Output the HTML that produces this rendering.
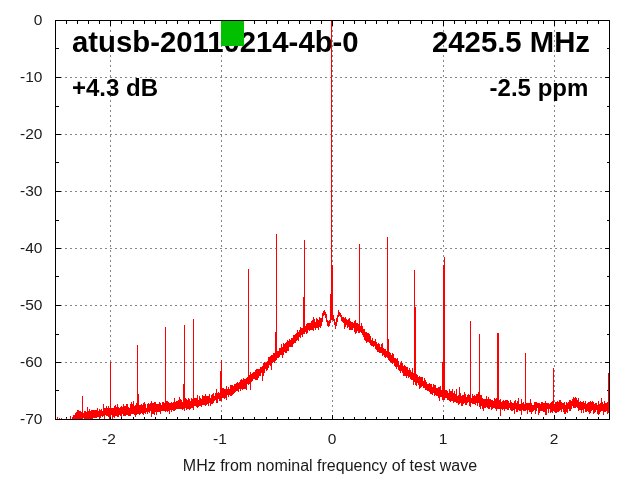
<!DOCTYPE html>
<html><head><meta charset="utf-8"><title>atusb-20110214-4b-0</title>
<style>
html,body{margin:0;padding:0;background:#fff;}
body{width:640px;height:480px;overflow:hidden;}
svg{display:block;font-family:"Liberation Sans",sans-serif;will-change:transform;}
.tk{font-size:15.5px;fill:#1a1a1a;}.xl{font-size:16px;fill:#1a1a1a;}
.big{font-size:29.3px;font-weight:bold;fill:#000;}
.med{font-size:24px;font-weight:bold;fill:#000;}
</style></head><body>
<svg width="640" height="480" viewBox="0 0 640 480">
<rect width="640" height="480" fill="#fff"/>
<defs><clipPath id="c"><rect x="55" y="20" width="555" height="400"/></clipPath></defs>
<g stroke="#888" stroke-width="1" stroke-dasharray="2 3" fill="none" shape-rendering="crispEdges"><path d="M55 77.5 H610 M55 134.5 H610 M55 191.5 H610 M55 248.5 H610 M55 305.5 H610 M55 362.5 H610 "/><path d="M110.5 419 V20 M221.5 419 V20 M332.5 419 V20 M443.5 419 V20 M554.5 419 V20 " stroke-dashoffset="3"/></g>
<g class="big"><text x="72" y="52">atusb-20110214-4b-0</text><text x="590" y="52" text-anchor="end">2425.5 MHz</text></g>
<g class="med"><text x="72" y="95.5">+4.3 dB</text><text x="588.3" y="95.5" text-anchor="end">-2.5 ppm</text></g>
<path d="M55.5 419.5 v-3 M55.5 20.5 v3 M66.5 419.5 v-3 M66.5 20.5 v3 M77.5 419.5 v-3 M77.5 20.5 v3 M88.5 419.5 v-3 M88.5 20.5 v3 M99.5 419.5 v-3 M99.5 20.5 v3 M110.5 419.5 v-5 M110.5 20.5 v5 M121.5 419.5 v-3 M121.5 20.5 v3 M133.5 419.5 v-3 M133.5 20.5 v3 M144.5 419.5 v-3 M144.5 20.5 v3 M155.5 419.5 v-3 M155.5 20.5 v3 M166.5 419.5 v-3 M166.5 20.5 v3 M177.5 419.5 v-3 M177.5 20.5 v3 M188.5 419.5 v-3 M188.5 20.5 v3 M199.5 419.5 v-3 M199.5 20.5 v3 M210.5 419.5 v-3 M210.5 20.5 v3 M221.5 419.5 v-5 M221.5 20.5 v5 M232.5 419.5 v-3 M232.5 20.5 v3 M243.5 419.5 v-3 M243.5 20.5 v3 M254.5 419.5 v-3 M254.5 20.5 v3 M266.5 419.5 v-3 M266.5 20.5 v3 M277.5 419.5 v-3 M277.5 20.5 v3 M288.5 419.5 v-3 M288.5 20.5 v3 M299.5 419.5 v-3 M299.5 20.5 v3 M310.5 419.5 v-3 M310.5 20.5 v3 M321.5 419.5 v-3 M321.5 20.5 v3 M332.5 419.5 v-5 M332.5 20.5 v5 M343.5 419.5 v-3 M343.5 20.5 v3 M354.5 419.5 v-3 M354.5 20.5 v3 M365.5 419.5 v-3 M365.5 20.5 v3 M376.5 419.5 v-3 M376.5 20.5 v3 M387.5 419.5 v-3 M387.5 20.5 v3 M398.5 419.5 v-3 M398.5 20.5 v3 M410.5 419.5 v-3 M410.5 20.5 v3 M421.5 419.5 v-3 M421.5 20.5 v3 M432.5 419.5 v-3 M432.5 20.5 v3 M443.5 419.5 v-5 M443.5 20.5 v5 M454.5 419.5 v-3 M454.5 20.5 v3 M465.5 419.5 v-3 M465.5 20.5 v3 M476.5 419.5 v-3 M476.5 20.5 v3 M487.5 419.5 v-3 M487.5 20.5 v3 M498.5 419.5 v-3 M498.5 20.5 v3 M509.5 419.5 v-3 M509.5 20.5 v3 M520.5 419.5 v-3 M520.5 20.5 v3 M531.5 419.5 v-3 M531.5 20.5 v3 M543.5 419.5 v-3 M543.5 20.5 v3 M554.5 419.5 v-5 M554.5 20.5 v5 M565.5 419.5 v-3 M565.5 20.5 v3 M576.5 419.5 v-3 M576.5 20.5 v3 M587.5 419.5 v-3 M587.5 20.5 v3 M598.5 419.5 v-3 M598.5 20.5 v3 M609.5 419.5 v-3 M609.5 20.5 v3 M55.5 20.5 h5 M609.5 20.5 h-5 M55.5 48.5 h3 M609.5 48.5 h-3 M55.5 77.5 h5 M609.5 77.5 h-5 M55.5 106.5 h3 M609.5 106.5 h-3 M55.5 134.5 h5 M609.5 134.5 h-5 M55.5 162.5 h3 M609.5 162.5 h-3 M55.5 191.5 h5 M609.5 191.5 h-5 M55.5 220.5 h3 M609.5 220.5 h-3 M55.5 248.5 h5 M609.5 248.5 h-5 M55.5 276.5 h3 M609.5 276.5 h-3 M55.5 305.5 h5 M609.5 305.5 h-5 M55.5 334.5 h3 M609.5 334.5 h-3 M55.5 362.5 h5 M609.5 362.5 h-5 M55.5 390.5 h3 M609.5 390.5 h-3 M55.5 419.5 h5 M609.5 419.5 h-5 " stroke="#000" stroke-width="1" fill="none" shape-rendering="crispEdges"/>
<rect x="221" y="20" width="23" height="26" fill="#00c000"/>
<g clip-path="url(#c)" fill="none" stroke="#ff0000" stroke-width="1" stroke-linejoin="bevel">
<path d="M57.5 417V420M59.5 418V420M61.5 418V420M63.5 419V420M65.5 419V420M66.5 418V420M67.5 419V420M68.5 419V420M70.5 416V420M71.5 419V420M72.5 417V420M73.5 415V420M74.5 415V420M75.5 413V420M76.5 412V420M77.5 410V420M78.5 410V420M79.5 411V420M80.5 411V420M81.5 412V419M82.5 409V420M83.5 413V418M84.5 411V419M85.5 411V420M86.5 412V420M87.5 407V419M88.5 411V420M89.5 409V420M90.5 411V420M91.5 410V420M92.5 410V420M93.5 410V418M94.5 410V418M95.5 410V418M96.5 410V418M97.5 408V417M98.5 411V417M99.5 409V419M100.5 410V418M101.5 409V416M102.5 411V417M103.5 404V416M104.5 408V419M105.5 408V415M106.5 406V416M107.5 408V416M108.5 406V417M109.5 408V419M110.5 408V417M111.5 408V415M112.5 408V419M113.5 408V417M114.5 406V418M115.5 405V416M116.5 407V416M117.5 404V417M118.5 407V417M119.5 408V415M120.5 407V416M121.5 406V417M122.5 407V414M123.5 404V416M124.5 406V416M125.5 406V416M126.5 404V415M127.5 404V415M128.5 407V416M129.5 408V416M130.5 404V416M131.5 402V414M132.5 404V414M133.5 401V414M134.5 406V415M135.5 405V417M136.5 403V415M137.5 404V414M138.5 405V414M139.5 405V415M140.5 405V414M141.5 404V413M142.5 405V414M143.5 403V415M144.5 402V413M145.5 404V414M146.5 408V412M147.5 404V414M148.5 403V412M149.5 404V413M150.5 403V411M151.5 401V417M152.5 403V414M153.5 403V414M154.5 402V415M155.5 402V412M156.5 404V415M157.5 404V412M158.5 404V412M159.5 402V412M160.5 403V414M161.5 405V411M162.5 402V411M163.5 402V411M164.5 403V411M165.5 401V412M166.5 401V411M167.5 401V412M168.5 402V411M169.5 403V414M170.5 403V410M171.5 402V412M172.5 403V410M173.5 402V411M174.5 398V411M175.5 402V410M176.5 401V409M177.5 401V409M178.5 400V409M179.5 397V409M180.5 399V409M181.5 400V409M182.5 402V410M183.5 402V409M184.5 402V411M185.5 398V408M186.5 399V410M187.5 400V409M188.5 398V409M189.5 399V410M190.5 401V409M191.5 398V408M192.5 399V408M193.5 400V410M194.5 398V406M195.5 398V406M196.5 398V407M197.5 395V408M198.5 400V407M199.5 396V406M200.5 398V406M201.5 399V407M202.5 395V405M203.5 396V405M204.5 396V405M205.5 394V406M206.5 396V405M207.5 396V404M208.5 396V406M209.5 394V403M210.5 398V406M211.5 395V404M212.5 394V404M213.5 393V403M214.5 396V401M215.5 393V400M216.5 389V403M217.5 393V403M218.5 392V399M219.5 393V401M220.5 391V401M221.5 391V401M222.5 388V398M223.5 388V398M224.5 389V399M225.5 389V398M226.5 386V400M227.5 389V395M228.5 387V397M229.5 389V395M230.5 385V396M231.5 385V396M232.5 385V395M233.5 386V394M234.5 384V393M235.5 384V392M236.5 383V391M237.5 382V391M238.5 383V392M239.5 382V389M240.5 380V391M241.5 379V389M242.5 380V390M243.5 378V389M244.5 379V389M245.5 379V389M246.5 378V390M247.5 377V384M248.5 378V385M249.5 375V384M250.5 372V390M251.5 374V382M252.5 373V381M253.5 372V379M254.5 372V379M255.5 370V380M256.5 369V380M257.5 369V380M258.5 369V378M259.5 369V376M260.5 367V376M261.5 367V373M262.5 366V381M263.5 363V376M264.5 362V373M265.5 363V369M266.5 362V371M267.5 361V370M268.5 357V368M269.5 357V365M270.5 356V366M271.5 355V370M272.5 355V363M273.5 353V362M274.5 353V363M275.5 351V361M276.5 352V360M277.5 351V358M278.5 351V358M279.5 348V357M280.5 348V355M281.5 344V355M282.5 347V358M283.5 343V355M284.5 344V352M285.5 343V353M286.5 342V353M287.5 340V351M288.5 341V351M289.5 339V347M290.5 340V347M291.5 338V347M292.5 338V347M293.5 335V344M294.5 335V343M295.5 334V343M296.5 333V341M297.5 330V340M298.5 332V341M299.5 330V337M300.5 327V338M301.5 328V335M302.5 328V337M303.5 326V334M304.5 326V334M305.5 326V332M306.5 324V334M307.5 323V333M308.5 323V330M309.5 323V331M310.5 323V330M311.5 321V330M312.5 320V330M313.5 317V331M314.5 319V328M315.5 322V330M316.5 318V328M317.5 319V328M318.5 320V330M319.5 317V327M320.5 318V328M321.5 318V326M322.5 313V322M323.5 311V316M324.5 310V315M325.5 312V318M326.5 314V322M327.5 320V326M328.5 321V327M329.5 320V326M330.5 317V323M331.5 315V320M332.5 315V320M333.5 315V321M334.5 319V325M335.5 322V329M336.5 318V326M337.5 315V322M338.5 310V317M339.5 312V316M340.5 313V317M341.5 315V321M342.5 317V322M343.5 317V323M344.5 318V329M345.5 317V327M346.5 319V325M347.5 320V328M348.5 319V327M349.5 318V330M350.5 321V330M351.5 322V330M352.5 322V330M353.5 323V328M354.5 321V332M355.5 320V334M356.5 323V333M357.5 323V331M358.5 324V333M359.5 323V333M360.5 326V332M361.5 323V333M362.5 326V335M363.5 329V337M364.5 329V340M365.5 332V341M366.5 332V343M367.5 333V342M368.5 333V342M369.5 334V343M370.5 336V345M371.5 340V346M372.5 338V346M373.5 341V347M374.5 341V346M375.5 339V349M376.5 342V350M377.5 344V352M378.5 343V352M379.5 344V353M380.5 347V353M381.5 344V353M382.5 343V356M383.5 348V355M384.5 349V357M385.5 349V358M386.5 351V357M387.5 347V358M388.5 352V360M389.5 352V361M390.5 353V362M391.5 355V363M392.5 353V364M393.5 354V363M394.5 358V366M395.5 358V367M396.5 359V369M397.5 358V367M398.5 361V370M399.5 365V371M400.5 363V373M401.5 361V371M402.5 363V373M403.5 366V376M404.5 365V376M405.5 366V376M406.5 367V378M407.5 367V376M408.5 370V378M409.5 368V377M410.5 370V379M411.5 372V380M412.5 368V380M413.5 373V385M414.5 372V382M415.5 373V385M416.5 374V386M417.5 375V383M418.5 377V385M419.5 376V389M420.5 377V388M421.5 377V387M422.5 377V386M423.5 381V388M424.5 378V388M425.5 380V390M426.5 382V390M427.5 384V391M428.5 384V391M429.5 383V392M430.5 384V394M431.5 384V394M432.5 387V395M433.5 384V393M434.5 385V396M435.5 385V395M436.5 388V396M437.5 388V396M438.5 387V398M439.5 387V401M440.5 386V397M441.5 390V397M442.5 388V400M443.5 386V400M444.5 389V400M445.5 390V398M446.5 390V398M447.5 391V400M448.5 393V400M449.5 389V401M450.5 391V402M451.5 391V401M452.5 389V401M453.5 393V403M454.5 391V402M455.5 394V402M456.5 389V403M457.5 396V403M458.5 395V405M459.5 397V404M460.5 393V403M461.5 396V406M462.5 395V406M463.5 395V404M464.5 392V403M465.5 394V405M466.5 397V405M467.5 395V403M468.5 394V402M469.5 395V406M470.5 395V407M471.5 398V403M472.5 394V404M473.5 396V404M474.5 395V404M475.5 396V405M476.5 394V403M477.5 394V406M478.5 395V403M479.5 396V407M480.5 395V409M481.5 395V406M482.5 398V409M483.5 399V411M484.5 399V408M485.5 399V408M486.5 396V407M487.5 399V408M488.5 397V409M489.5 399V409M490.5 399V407M491.5 400V410M492.5 400V409M493.5 401V408M494.5 398V408M495.5 399V409M496.5 398V411M497.5 400V409M498.5 402V409M499.5 400V409M500.5 399V416M501.5 402V409M502.5 401V410M503.5 400V409M504.5 401V411M505.5 400V409M506.5 400V409M507.5 400V410M508.5 401V410M509.5 403V408M510.5 400V410M511.5 402V411M512.5 403V411M513.5 403V410M514.5 401V414M515.5 400V409M516.5 403V412M517.5 401V412M518.5 398V410M519.5 404V411M520.5 404V411M521.5 399V415M522.5 403V410M523.5 402V411M524.5 404V411M525.5 401V411M526.5 403V410M527.5 403V414M528.5 403V410M529.5 403V412M530.5 399V412M531.5 403V414M532.5 405V412M533.5 405V411M534.5 402V410M535.5 402V414M536.5 402V411M537.5 403V408M538.5 403V415M539.5 403V413M540.5 404V411M541.5 402V411M542.5 402V411M543.5 403V412M544.5 403V412M545.5 401V415M546.5 403V415M547.5 403V409M548.5 403V413M549.5 404V409M550.5 403V413M551.5 402V412M552.5 401V413M553.5 403V411M554.5 404V412M555.5 402V413M556.5 402V413M557.5 401V412M558.5 402V412M559.5 400V411M560.5 400V410M561.5 402V412M562.5 403V409M563.5 403V412M564.5 402V414M565.5 405V414M566.5 402V412M567.5 403V413M568.5 402V409M569.5 400V411M570.5 400V411M571.5 401V409M572.5 399V406M573.5 397V408M574.5 398V408M575.5 397V408M576.5 398V407M577.5 400V408M578.5 398V411M579.5 402V410M580.5 401V410M581.5 402V413M582.5 402V410M583.5 401V413M584.5 403V409M585.5 401V412M586.5 404V412M587.5 403V411M588.5 402V412M589.5 402V414M590.5 401V413M591.5 402V411M592.5 401V410M593.5 402V414M594.5 404V413M595.5 403V412M596.5 403V410M597.5 405V414M598.5 401V415M599.5 404V414M600.5 403V412M601.5 398V411M602.5 402V411M603.5 404V415M604.5 401V412M605.5 403V412M606.5 403V411M607.5 402V414M608.5 405V413M609.5 405V413" shape-rendering="crispEdges"/>
<path d="M82.5 416.9 V396 M110.5 412.5 V362 M137.5 410.7 V345 M138.5 410.6 V394 M165.5 407.9 V327 M183.5 405.8 V384 M184.5 405.7 V325 M193.5 404.3 V319 M220.5 397.2 V371 M221.5 396.7 V360 M248.5 381 V269 M275.5 357.5 V332 M276.5 356.5 V234 M303.5 331 V297 M304.5 330.2 V240 M359.5 329.5 V244 M387.5 355.5 V237 M388.5 356.5 V339 M414.5 378.6 V270 M415.5 379.4 V307 M442.5 395.1 V362 M443.5 395.5 V265 M444.5 395.8 V257 M459.5 399.9 V387 M470.5 400.6 V321 M478.5 401.5 V392 M479.5 402.5 V334 M497.5 405.3 V333 M498.5 405.4 V333 M525.5 407.3 V353 M553.5 408 V368 M608.5 409 V373 M331.5 320 V14 M332.5 320 V265 M330.5 322 V294" shape-rendering="crispEdges"/>
</g>
<rect x="55.5" y="20.5" width="554" height="399" fill="none" stroke="#000" stroke-width="1" shape-rendering="crispEdges"/>
<g class="tk"><text x="42.4" y="25.4" text-anchor="end">0</text><text x="42.4" y="82.4" text-anchor="end">-10</text><text x="42.4" y="139.4" text-anchor="end">-20</text><text x="42.4" y="196.4" text-anchor="end">-30</text><text x="42.4" y="253.4" text-anchor="end">-40</text><text x="42.4" y="310.4" text-anchor="end">-50</text><text x="42.4" y="367.4" text-anchor="end">-60</text><text x="42.4" y="424.4" text-anchor="end">-70</text><text x="109" y="443.5" text-anchor="middle">-2</text><text x="220" y="443.5" text-anchor="middle">-1</text><text x="332" y="443.5" text-anchor="middle">0</text><text x="443" y="443.5" text-anchor="middle">1</text><text x="554" y="443.5" text-anchor="middle">2</text><text class="xl" x="330" y="470.7" text-anchor="middle">MHz from nominal frequency of test wave</text></g>
</svg>
</body></html>
